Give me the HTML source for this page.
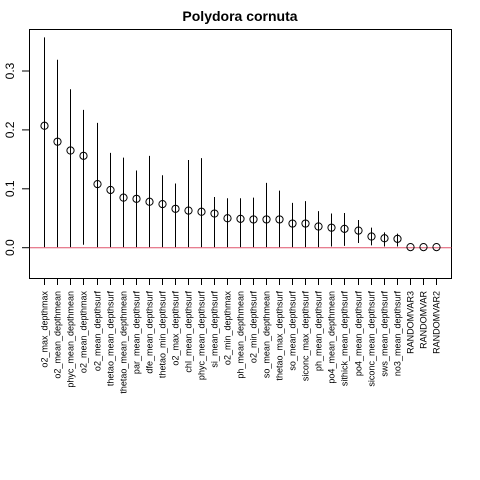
<!DOCTYPE html>
<html><head><meta charset="utf-8"><style>
body{margin:0;background:#fff;}
svg{display:block;font-family:"Liberation Sans",sans-serif;}
</style></head><body>
<svg id="chart" width="480" height="480">
<text x="240" y="21" text-anchor="middle" font-size="14" font-weight="bold">Polydora cornuta</text>
<rect x="29.5" y="29.5" width="422" height="249" fill="none" stroke="#000" stroke-width="1"/>
<g id="marks"></g>
</svg>
<script>
const categories=["o2_max_depthmax","o2_mean_depthmean","phyc_mean_depthmean","o2_mean_depthmax","o2_mean_depthsurf","thetao_mean_depthsurf","thetao_mean_depthmean","par_mean_depthsurf","dfe_mean_depthsurf","thetao_min_depthsurf","o2_max_depthsurf","chl_mean_depthsurf","phyc_mean_depthsurf","si_mean_depthsurf","o2_min_depthmax","ph_mean_depthmean","o2_min_depthsurf","so_mean_depthmean","thetao_max_depthsurf","so_mean_depthsurf","siconc_max_depthsurf","ph_mean_depthsurf","po4_mean_depthmean","sithick_mean_depthsurf","po4_mean_depthsurf","siconc_mean_depthsurf","sws_mean_depthsurf","no3_mean_depthsurf","RANDOMVAR3","RANDOMVAR","RANDOMVAR2"];
const means=[0.207,0.180,0.165,0.156,0.108,0.098,0.085,0.083,0.078,0.074,0.066,0.063,0.061,0.058,0.050,0.049,0.048,0.048,0.048,0.041,0.041,0.036,0.034,0.032,0.029,0.019,0.016,0.015,0.001,0.001,0.001];
const uppers=[0.357,0.319,0.269,0.234,0.212,0.161,0.153,0.131,0.156,0.123,0.109,0.149,0.152,0.086,0.084,0.084,0.085,0.110,0.097,0.076,0.079,0.062,0.058,0.059,0.047,0.034,0.026,0.024,0.001,0.001,0.001];
const lowers=[0.001,0.001,0.001,0.005,0.001,0.001,0.001,0.001,0.001,0.001,0.001,0.001,0.001,0.001,0.001,0.001,0.001,0.001,0.001,0.001,0.001,0.001,0.002,0.003,0.008,0.004,0.002,0.002,0.001,0.001,0.001];
const yTicks=[0,0.1,0.2,0.3];
const yTickLabels=["0.0","0.1","0.2","0.3"];
const NS="http://www.w3.org/2000/svg";
const g=document.getElementById('marks');
function xs(i){return 44.3+i*13.05;}
function ys(v){return 247.7-v*589;}
function mk(t,a){const e=document.createElementNS(NS,t);for(const k in a)e.setAttribute(k,a[k]);g.appendChild(e);return e;}
let ref=mk('line',{x1:29.5,x2:451.5,y1:ys(0),y2:ys(0),stroke:'#df536b','stroke-width':1});


let ya=mk('line',{x1:29.5,x2:29.5,y1:ys(0),y2:ys(0.3),stroke:'#000'});


yTicks.forEach((v,i)=>{
 let t=mk('line',{x1:22,x2:29.5,y1:ys(v),y2:ys(v),stroke:'#000'});
 
 
 let y=ys(v);
 let l=mk('text',{x:0,y:0,'font-size':12,'text-anchor':'middle',transform:`translate(14,${y}) rotate(-90)`});
 l.textContent=yTickLabels[i];
 
 
});
let xa=mk('line',{x1:xs(0),x2:xs(categories.length-1),y1:278.5,y2:278.5,stroke:'#000'});


categories.forEach((c,i)=>{
 const x=Math.round(xs(i))+0.5;
 let t=mk('line',{x1:x,x2:x,y1:278.5,y2:285,stroke:'#000'});
 
 
 let l=mk('text',{x:0,y:0,'font-size':9,'text-anchor':'end',transform:`translate(${x+3},291) rotate(-90)`});
 l.textContent=c;
 
 
 let e=mk('line',{x1:x,x2:x,y1:ys(lowers[i]),y2:ys(uppers[i]),stroke:'#000','stroke-width':1});
 
 
 let p=mk('circle',{cx:x,cy:ys(means[i]),r:3.6,fill:'none',stroke:'#000','stroke-width':1});
 
 
});
</script>
</body></html>
